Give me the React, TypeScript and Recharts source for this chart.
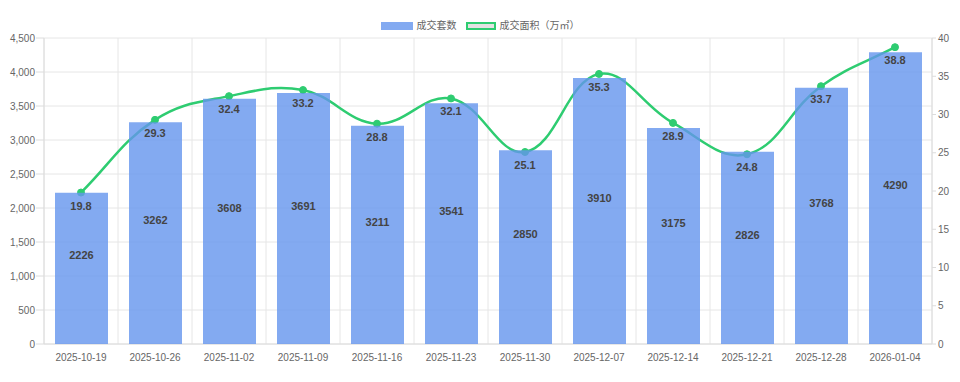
import { Bar, CartesianGrid, ComposedChart, LabelList, Line, XAxis, YAxis } from "recharts";

const weeks = [
  "2025-10-19", "2025-10-26", "2025-11-02", "2025-11-09", "2025-11-16", "2025-11-23",
  "2025-11-30", "2025-12-07", "2025-12-14", "2025-12-21", "2025-12-28", "2026-01-04",
];
const dealCount = [2226, 3262, 3608, 3691, 3211, 3541, 2850, 3910, 3175, 2826, 3768, 4290];
const dealArea = [19.8, 29.3, 32.4, 33.2, 28.8, 32.1, 25.1, 35.3, 28.9, 24.8, 33.7, 38.8];

const countTicks = [0, 500, 1000, 1500, 2000, 2500, 3000, 3500, 4000, 4500];
const areaTicks = [0, 5, 10, 15, 20, 25, 30, 35, 40];

const data = weeks.map((week, i) => ({ week, count: dealCount[i], area: dealArea[i] }));

const FONT = '"Liberation Sans", Arial, "Noto Sans CJK SC", sans-serif';
const BAR_COLOR = "rgba(100,149,237,0.8)";
const LINE_COLOR = "#2ecc71";
const W = 960;
const H = 382;
const MARGIN = { top: 38, right: 0, bottom: 0, left: 0 };

// chart.js style spline (tension 0.4) as a d3 curve factory
function chartJsCurve(context: any) {
  let pts: { x: number; y: number }[] = [];
  const t = 0.4;
  return {
    areaStart() {},
    areaEnd() {},
    lineStart() {
      pts = [];
    },
    point(x: number, y: number) {
      pts.push({ x: +x, y: +y });
    },
    lineEnd() {
      if (!pts.length) return;
      const cps = pts.map((cur, i) => {
        const prev = pts[i - 1] || cur;
        const next = pts[i + 1] || cur;
        const d01 = Math.hypot(cur.x - prev.x, cur.y - prev.y);
        const d12 = Math.hypot(next.x - cur.x, next.y - cur.y);
        let s01 = d01 / (d01 + d12);
        let s12 = d12 / (d01 + d12);
        if (isNaN(s01)) s01 = 0;
        if (isNaN(s12)) s12 = 0;
        const fa = t * s01;
        const fb = t * s12;
        return {
          c1: { x: cur.x - fa * (next.x - prev.x), y: cur.y - fa * (next.y - prev.y) },
          c2: { x: cur.x + fb * (next.x - prev.x), y: cur.y + fb * (next.y - prev.y) },
        };
      });
      context.moveTo(pts[0].x, pts[0].y);
      for (let i = 1; i < pts.length; i++) {
        const a = cps[i - 1].c2;
        const b = cps[i].c1;
        context.bezierCurveTo(a.x, a.y, b.x, b.y, pts[i].x, pts[i].y);
      }
    },
  };
}

const BarValueLabel = (props: any) => {
  const { x, y, width, height, value } = props;
  return (
    <text
      x={x + width / 2}
      y={y + height / 2 - 13}
      textAnchor="middle"
      dominantBaseline="central"
      fill="#444"
      fontSize={11}
      fontWeight="bold"
      fontFamily={FONT}
    >
      {value}
    </text>
  );
};

const LineValueLabel = (props: any) => {
  const { x, y, value } = props;
  return (
    <text
      x={x}
      y={y + 13}
      textAnchor="middle"
      dominantBaseline="central"
      fill="#444"
      fontSize={11}
      fontWeight="bold"
      fontFamily={FONT}
    >
      {Number(value).toFixed(1)}
    </text>
  );
};

function Legend() {
  const text = { fontSize: 10, color: "#666", fontFamily: FONT, lineHeight: "10px" };
  return (
    <div
      style={{
        position: "absolute",
        left: 0,
        top: 21,
        width: W,
        display: "flex",
        justifyContent: "center",
        alignItems: "center",
      }}
    >
      <span style={{ width: 32, height: 8, background: BAR_COLOR, marginRight: 4 }} />
      <span style={{ ...text, marginRight: 9 }}>成交套数</span>
      <span
        style={{
          width: 30,
          height: 8,
          background: "#e2e2e2",
          border: `2px solid ${LINE_COLOR}`,
          boxSizing: "border-box",
          marginRight: 4,
        }}
      />
      <span style={text}>成交面积（万㎡）</span>
    </div>
  );
}

// axes shared by both layers; the overlay hides them but keeps the same sizes
function Axes({ hidden }: { hidden: boolean }) {
  const tick = hidden ? false : { fill: "#666", fontSize: 10, fontFamily: FONT };
  const line = hidden ? false : { stroke: "#dcdcdc" };
  return [
    <XAxis
      key="x"
      dataKey="week"
      scale="band"
      height={38}
      interval={0}
      tick={tick as any}
      tickLine={false}
      tickSize={8}
      tickMargin={2}
      axisLine={line as any}
    />,
    <YAxis
      key="yl"
      yAxisId="left"
      width={44}
      domain={[0, 4500]}
      ticks={countTicks}
      tickFormatter={(v) => Number(v).toLocaleString("en-US")}
      tick={tick as any}
      tickSize={8}
      tickMargin={1}
      tickLine={line as any}
      axisLine={line as any}
    />,
    <YAxis
      key="yr"
      yAxisId="right"
      orientation="right"
      width={28}
      domain={[0, 40]}
      ticks={areaTicks}
      tick={tick as any}
      tickSize={4}
      tickMargin={2}
      tickLine={line as any}
      axisLine={line as any}
    />,
  ];
}

export default function App() {
  return (
    <div style={{ position: "absolute", left: 0, top: 0, width: W, height: H, background: "#fff" }}>
      {/* bottom layer: grid, axes and the line */}
      <div style={{ position: "absolute", left: 0, top: 0 }}>
        <ComposedChart width={W} height={H} data={data} margin={MARGIN}>
          <CartesianGrid
            yAxisId="left"
            stroke="#e6e6e6"
            verticalCoordinatesGenerator={({ offset }: any) =>
              weeks.map((_, i) => offset.left + (offset.width * i) / weeks.length).concat(offset.left + offset.width)
            }
          />
          {Axes({ hidden: false })}
          {/* invisible bars keep the left axis active in this layer */}
          <Bar yAxisId="left" dataKey="count" fill="none" barSize={53} isAnimationActive={false} />
          <Line
            yAxisId="right"
            dataKey="area"
            type={chartJsCurve as any}
            stroke={LINE_COLOR}
            strokeWidth={2.5}
            dot={{ r: 3.5, fill: LINE_COLOR, stroke: LINE_COLOR, strokeWidth: 1 }}
            activeDot={false}
            isAnimationActive={false}
          />
        </ComposedChart>
      </div>
      {/* top layer: semi-transparent bars over the line, then all value labels */}
      <div style={{ position: "absolute", left: 0, top: 0 }}>
        <ComposedChart width={W} height={H} data={data} margin={MARGIN}>
          {Axes({ hidden: true })}
          <Bar yAxisId="left" dataKey="count" fill={BAR_COLOR} barSize={53} isAnimationActive={false}>
            <LabelList dataKey="count" content={BarValueLabel} />
          </Bar>
          <Line
            yAxisId="right"
            dataKey="area"
            stroke="none"
            dot={false}
            activeDot={false}
            isAnimationActive={false}
          >
            <LabelList dataKey="area" content={LineValueLabel} />
          </Line>
        </ComposedChart>
      </div>
      <Legend />
    </div>
  );
}
